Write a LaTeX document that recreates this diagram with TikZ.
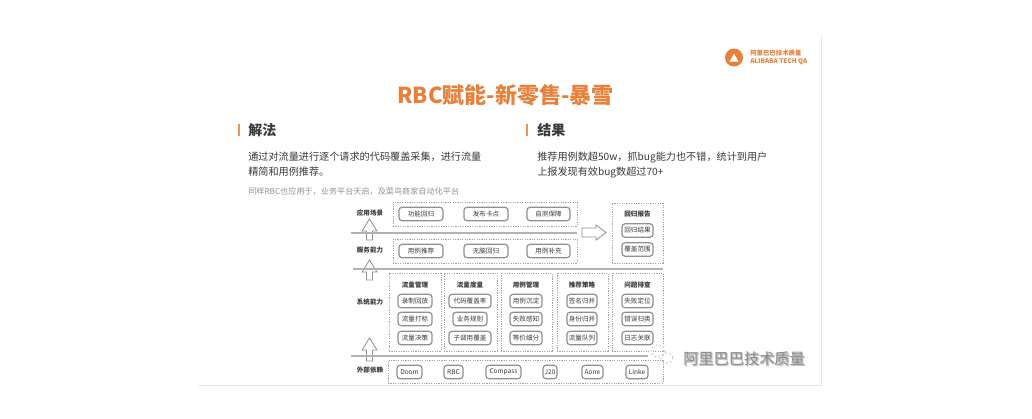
\documentclass[tikz,border=0pt]{standalone}
\usepackage{fontspec}
\setmainfont{Noto Sans CJK SC}
\usetikzlibrary{shapes.geometric}
\definecolor{orangeA}{HTML}{E8803A}
\definecolor{inkA}{HTML}{3A3A3A}
\definecolor{boxA}{HTML}{909090}
\definecolor{dotA}{HTML}{A4A4A4}
\tikzset{
  ttl/.style={font=\bfseries\fontsize{16.5}{18}\selectfont,text=orangeA,inner sep=0pt},
  head/.style={font=\bfseries\fontsize{10.5}{12}\selectfont,text=inkA,anchor=west,inner sep=0pt},
  body/.style={font=\fontsize{7.6}{9}\selectfont,text=inkA,anchor=west,inner sep=0pt},
  note/.style={font=\fontsize{6.1}{7}\selectfont,text=gray!85,anchor=west,inner sep=0pt},
  rowlabel/.style={font=\bfseries\fontsize{4.9}{6}\selectfont,text=inkA,inner sep=0pt},
  coltitle/.style={font=\bfseries\fontsize{4.9}{6}\selectfont,text=inkA,inner sep=0pt},
  ibox/.style={draw=boxA,line width=0.9pt,rounded corners=2.2pt,font=\fontsize{4.9}{6}\selectfont,text=inkA,inner sep=0pt,minimum height=10pt},
  dbox/.style={draw=dotA,line width=0.7pt,dash pattern=on 0.9pt off 0.9pt,inner sep=0pt},
  hollow/.style={draw=boxA,fill=white,line width=0.6pt,line join=miter},
  sepline/.style={draw=gray!60,line width=1.2pt},
  bar/.style={fill=orangeA!85,draw=none,inner sep=0pt,minimum width=1.3pt,minimum height=9.5pt},
  lgtxt/.style={font=\bfseries\fontsize{4.8}{5}\selectfont,text=orangeA,inner sep=0pt,anchor=west},
}
\newcommand{\ib}[4]{\node[ibox,minimum width=#3*0.75pt] (#1) at (#2) {#4};}
\newcommand{\db}[5]{\node[dbox,minimum width=#4*0.75pt-#2*0.75pt,minimum height=#5*0.75pt-#3*0.75pt] (#1) at ({(#2+#4)/2},{(#3+#5)/2}) {};}
\newcommand{\uparr}[3]{\draw[hollow] (#1,#2) -- ({#1+7.5},{#2+12}) -- ({#1+3},{#2+12}) -- ({#1+3},#3) -- ({#1-3},#3) -- ({#1-3},{#2+12}) -- ({#1-7.5},{#2+12}) -- cycle;}
\begin{document}
\begin{tikzpicture}[x=0.75pt,y=-0.75pt]
\useasboundingbox (0,0) rectangle (1032,418);
\fill[white] (0,0) rectangle (1032,418);
% slide edge
\draw[gray!18,line width=0.6pt] (198,385) -- (821,385) -- (821,36);
% logo
\node[circle,fill=orangeA,minimum size=13.5pt,inner sep=0pt] (logo) at (734,57.5) {};
\node[regular polygon,regular polygon sides=3,fill=white,minimum size=8pt,inner sep=0pt] (logotri) at (734,59) {};
\node[lgtxt] (logotop) at (750,53) {阿里巴巴技术质量};
\node[lgtxt] (logobot) at (750,62) {ALIBABA TECH QA};
% title
\node[ttl] (title) at (505.5,95) {RBC赋能-新零售-暴雪};
% heads
\node[bar] (barL) at (239,130) {};
\node[head] (headL) at (248,130) {解法};
\node[bar] (barR) at (527,130) {};
\node[head] (headR) at (537,130) {结果};
\node[body] (bodyL1) at (248,157) {通过对流量进行逐个请求的代码覆盖采集，进行流量};
\node[body] (bodyL2) at (248,172) {精简和用例推荐。};
\node[body] (bodyR1) at (537,157) {推荐用例数超50w，抓bug能力也不错，统计到用户};
\node[body] (bodyR2) at (537,172) {上报发现有效bug数超过70+};
\node[note] (noteL) at (248,191) {同样RBC也应用于，业务平台天启，及菜鸟商家自动化平台};
% dashed groups
\db{gApp}{393}{202}{577}{226}
\db{gSvc}{393}{239}{577}{263}
\db{gRep}{612}{203}{663}{263}
\db{gC1}{389}{273}{441}{351}
\db{gC2}{444}{273}{497}{351}
\db{gC3}{501}{273}{552}{351}
\db{gC4}{557}{273}{608}{351}
\db{gC5}{612}{273}{663}{351}
\db{gExt}{388}{360}{663}{383}
% hollow arrows
\uparr{369.5}{219}{240}
\uparr{369.5}{260}{280}
\uparr{369.5}{338}{361}
\draw[hollow] (606,232.5) -- (596,225) -- (596,228) -- (582,228) -- (582,237) -- (596,237) -- (596,240) -- cycle;
% separators
\coordinate (s1a) at (351,233); \coordinate (s1b) at (577,233);
\coordinate (s2a) at (353,269); \coordinate (s2b) at (663,269);
\coordinate (s3a) at (351,356); \coordinate (s3b) at (648,356);
\draw[sepline] (s1a) -- (s1b);
\draw[sepline] (s2a) -- (s2b);
\draw[sepline] (s3a) -- (s3b);
% row labels
\node[rowlabel] (l1) at (370,213) {应用场景};
\node[rowlabel] (l2) at (370,250) {服务能力};
\node[rowlabel] (l3) at (370,302) {系统能力};
\node[rowlabel] (l4) at (370,370) {外部依赖};
% row 1
\ib{a1}{421,214}{44}{功能回归}
\ib{a2}{486,214}{44}{发布卡点}
\ib{a3}{548.5,214}{43}{自测保障}
% row 2
\ib{b1}{421,251}{44}{用例推荐}
\ib{b2}{486,251}{44}{无脑回归}
\ib{b3}{548.5,251}{43}{用例补充}
% report
\node[coltitle] (r0) at (637.5,214) {回归报告};
\ib{r1}{637.5,230.5}{31}{回归结果}
\ib{r2}{637.5,249.5}{31}{覆盖范围}
% col 1
\node[coltitle] (c1t) at (415,285) {流量管理};
\ib{c11}{415,301}{34}{录制回放}
\ib{c12}{415,319}{34}{流量打标}
\ib{c13}{415,338}{34}{流量决策}
% col 2
\node[coltitle] (c2t) at (470,285) {流量度量};
\ib{c21}{470,301}{42}{代码覆盖率}
\ib{c22}{470,319}{34}{业务规则}
\ib{c23}{470,338}{42}{子调用覆盖}
% col 3
\node[coltitle] (c3t) at (526,285) {用例管理};
\ib{c31}{526,301}{32}{用例沉淀}
\ib{c32}{526,319}{32}{失败感知}
\ib{c33}{526,338}{32}{等价细分}
% col 4
\node[coltitle] (c4t) at (582,285) {推荐策略};
\ib{c41}{582,301}{30}{签名归并}
\ib{c42}{582,319}{30}{身份归并}
\ib{c43}{582,338}{30}{流量队列}
% col 5
\node[coltitle] (c5t) at (637.5,285) {问题排查};
\ib{c51}{637.5,301}{31}{失败定位}
\ib{c52}{637.5,319}{31}{错误归类}
\ib{c53}{637.5,338}{31}{日志关联}
% external
\ib{e1}{409.5,372}{25}{Doom}
\ib{e2}{453.5,372}{19}{RBC}
\ib{e3}{503.5,372}{35}{Compass}
\ib{e4}{550,372}{14}{J20}
\ib{e5}{592.5,372}{21}{Aone}
\ib{e6}{637,372}{22}{Linke}
% watermark
\draw[white,line width=1.4pt] (658,351) ellipse (7 and 6);
\draw[gray!55,line width=0.7pt,dash pattern=on 1pt off 2pt] (658,351) ellipse (7 and 6);
\draw[gray!55,line width=0.7pt,dash pattern=on 1pt off 2pt] (667,358) ellipse (6 and 5);
\node[font=\bfseries\fontsize{11.4}{12}\selectfont,text=gray!45,inner sep=0pt,anchor=west] (wmS) at (684,360) {阿里巴巴技术质量};
\node[font=\fontsize{11.4}{12}\selectfont,text=gray!90,inner sep=0pt,anchor=west] (wm) at (683,359) {阿里巴巴技术质量};
\end{tikzpicture}
\end{document}
